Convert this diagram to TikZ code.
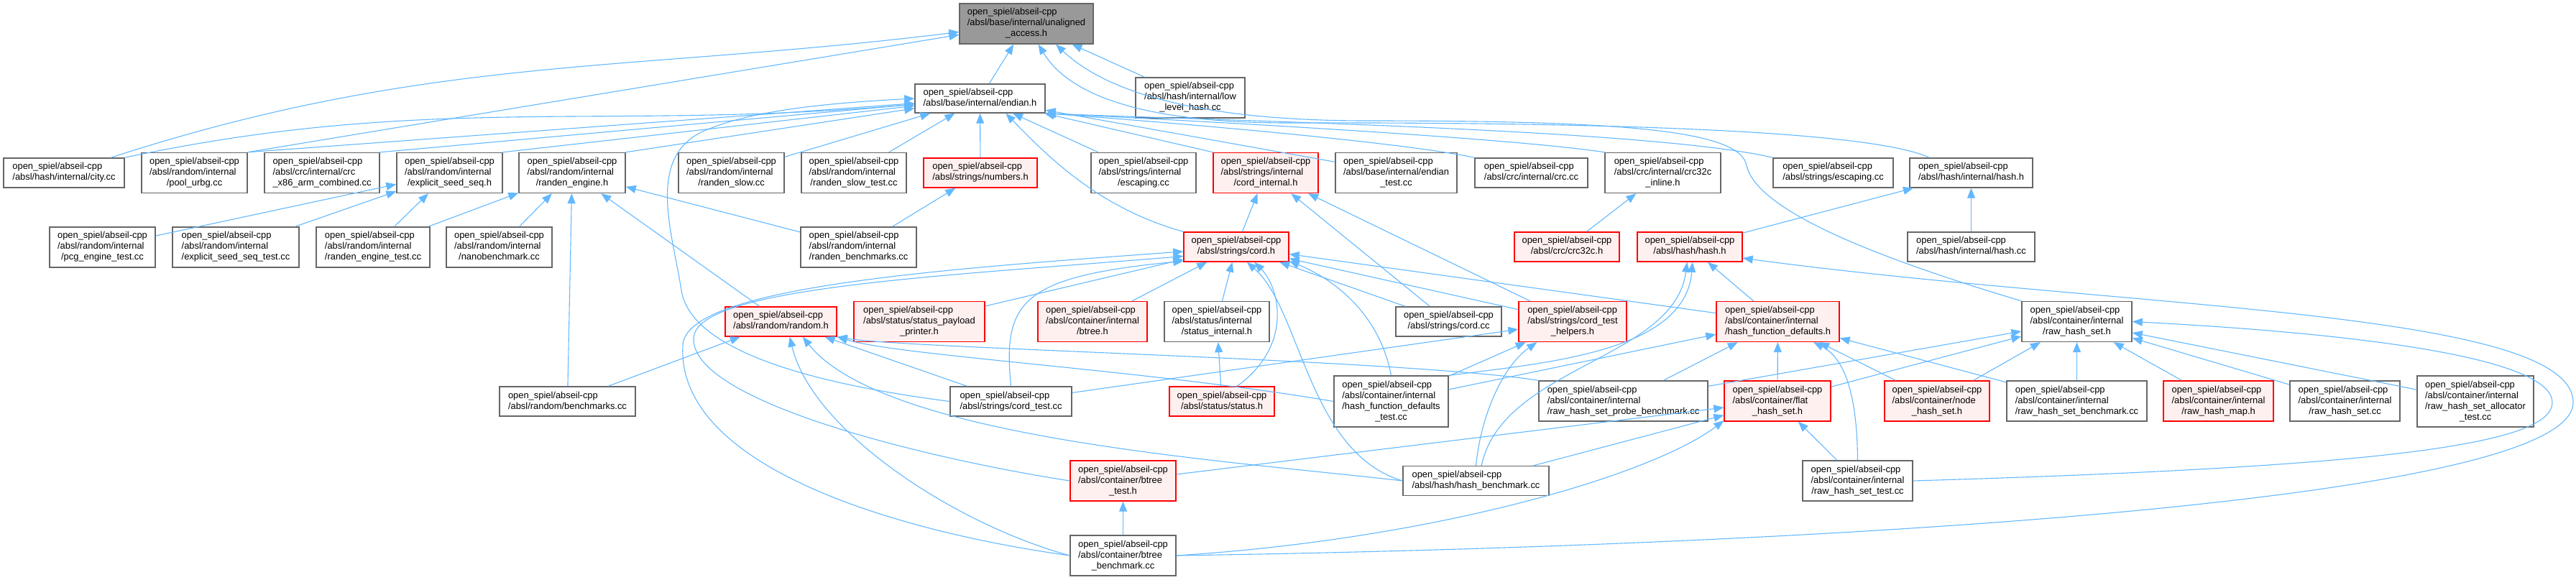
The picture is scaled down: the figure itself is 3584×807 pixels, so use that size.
\documentclass[tikz,border=0pt]{standalone}
\usepackage{fontspec}
\setmainfont{Liberation Sans}
\usetikzlibrary{arrows.meta,positioning,calc}
\definecolor{DepBlue}{HTML}{63B8FF}
\definecolor{BoxGrey}{HTML}{666666}
\definecolor{RootGrey}{HTML}{999999}
\definecolor{TruncPink}{HTML}{FFF0F0}
\newcommand{\FileFont}{\fontsize{6.45}{7.5}\selectfont}
\newcommand{\LastLine}[1]{\multicolumn{1}{@{}c@{}}{#1}}
\newcommand{\PathTwo}[1]{\begin{tabular}{@{}l@{}}open\_spiel/abseil-cpp\\\LastLine{#1}\end{tabular}}
\newcommand{\PathThree}[2]{\begin{tabular}{@{}l@{}}open\_spiel/abseil-cpp\\#1\\\LastLine{#2}\end{tabular}}
\newcommand{\PathFour}[3]{\begin{tabular}{@{}l@{}}open\_spiel/abseil-cpp\\#1\\#2\\\LastLine{#3}\end{tabular}}
\newcommand{\FileNode}[6]{%
  \node[#1,minimum width=#4*0.5pt,minimum height=#5*0.5pt] (#2) at (#3) {#6};%
}
\tikzset{
  file/.style={draw=BoxGrey,fill=white,line width=0.7pt,inner sep=0pt,font=\FileFont},
  trunc/.style={file,draw=red,fill=TruncPink},
  root/.style={file,fill=RootGrey},
  dep/.style={DepBlue,line width=0.55pt,-{Triangle[length=7pt,width=5.5pt]}},
}

\begin{document}
\begin{tikzpicture}[x=0.5pt,y=-0.5pt]
\useasboundingbox (0,0) rectangle (3584,807);
% top
\FileNode{root}{unaligned}{1428,33}{186}{56}{\PathThree{/absl/base/internal/unaligned}{\_access.h}}
\FileNode{file}{endian}{1363.5,137}{181}{40}{\PathTwo{/absl/base/internal/endian.h}}
\FileNode{file}{lowlevel}{1656,136}{152}{56}{\PathThree{/absl/hash/internal/low}{\_level\_hash.cc}}
% row 2
\FileNode{file}{city}{89,240.5}{168}{41}{\PathTwo{/absl/hash/internal/city.cc}}
\FileNode{file}{poolurbg}{270.5,240.5}{147}{56}{\PathThree{/absl/random/internal}{/pool\_urbg.cc}}
\FileNode{file}{crcx}{448,240.5}{160}{56}{\PathThree{/absl/crc/internal/crc}{\_x86\_arm\_combined.cc}}
\FileNode{file}{seedseq}{625.5,240.5}{147}{56}{\PathThree{/absl/random/internal}{/explicit\_seed\_seq.h}}
\FileNode{file}{randeng}{796,240.5}{148}{56}{\PathThree{/absl/random/internal}{/randen\_engine.h}}
\FileNode{file}{randslow}{1017.5,240.5}{147}{56}{\PathThree{/absl/random/internal}{/randen\_slow.cc}}
\FileNode{file}{randslowtest}{1188,240.5}{146}{56}{\PathThree{/absl/random/internal}{/randen\_slow\_test.cc}}
\FileNode{trunc}{numbers}{1364,240.5}{158}{41}{\PathTwo{/absl/strings/numbers.h}}
\FileNode{file}{intescaping}{1591,240.5}{146}{56}{\PathThree{/absl/strings/internal}{/escaping.cc}}
\FileNode{trunc}{cordint}{1761,240.5}{146}{56}{\PathThree{/absl/strings/internal}{/cord\_internal.h}}
\FileNode{file}{endiantest}{1942.5,240.5}{169}{56}{\PathThree{/absl/base/internal/endian}{\_test.cc}}
\FileNode{file}{crccc}{2130.5,240.5}{157}{41}{\PathTwo{/absl/crc/internal/crc.cc}}
\FileNode{file}{crcinline}{2313.5,240.5}{161}{56}{\PathThree{/absl/crc/internal/crc32c}{\_inline.h}}
\FileNode{file}{escaping}{2550.5,240.5}{167}{41}{\PathTwo{/absl/strings/escaping.cc}}
\FileNode{file}{inthash}{2742.5,240.5}{171}{41}{\PathTwo{/absl/hash/internal/hash.h}}
% row 3
\FileNode{file}{pcgtest}{142.5,344}{147}{56}{\PathThree{/absl/random/internal}{/pcg\_engine\_test.cc}}
\FileNode{file}{seedseqtest}{328,344}{176}{56}{\PathThree{/absl/random/internal}{/explicit\_seed\_seq\_test.cc}}
\FileNode{file}{randengtest}{519,344}{158}{56}{\PathThree{/absl/random/internal}{/randen\_engine\_test.cc}}
\FileNode{file}{nanobench}{694.5,344}{147}{56}{\PathThree{/absl/random/internal}{/nanobenchmark.cc}}
\FileNode{file}{randbench}{1194.5,344}{161}{56}{\PathThree{/absl/random/internal}{/randen\_benchmarks.cc}}
\FileNode{trunc}{cord}{1720,343.5}{146}{41}{\PathTwo{/absl/strings/cord.h}}
\FileNode{trunc}{crc32c}{2180,343.5}{146}{41}{\PathTwo{/absl/crc/crc32c.h}}
\FileNode{trunc}{hash}{2351,343.5}{146}{41}{\PathTwo{/absl/hash/hash.h}}
\FileNode{file}{inthashcc}{2742.5,343.5}{177}{41}{\PathTwo{/absl/hash/internal/hash.cc}}
% row 4
\FileNode{trunc}{random}{1086.5,447.5}{155}{41}{\PathTwo{/absl/random/random.h}}
\FileNode{trunc}{payload}{1279,447.5}{182}{56}{\PathThree{/absl/status/status\_payload}{\_printer.h}}
\FileNode{trunc}{btree}{1520,447.5}{152}{56}{\PathThree{/absl/container/internal}{/btree.h}}
\FileNode{file}{statusint}{1693,447.5}{146}{56}{\PathThree{/absl/status/internal}{/status\_internal.h}}
\FileNode{file}{cordcc}{2015.5,447.5}{147}{41}{\PathTwo{/absl/strings/cord.cc}}
\FileNode{trunc}{cordhelpers}{2188,447.5}{150}{56}{\PathThree{/absl/strings/cord\_test}{\_helpers.h}}
\FileNode{trunc}{hashdefaults}{2473.5,447.5}{171}{56}{\PathThree{/absl/container/internal}{/hash\_function\_defaults.h}}
\FileNode{file}{rawset}{2889.5,447.5}{153}{56}{\PathThree{/absl/container/internal}{/raw\_hash\_set.h}}
% row 5
\FileNode{file}{randombench}{789.5,558.5}{189}{41}{\PathTwo{/absl/random/benchmarks.cc}}
\FileNode{file}{cordtest}{1406.5,558.5}{169}{41}{\PathTwo{/absl/strings/cord\_test.cc}}
\FileNode{trunc}{status}{1700,558.5}{146}{41}{\PathTwo{/absl/status/status.h}}
\FileNode{file}{defaultstest}{1935.5,558.5}{159}{71}{\PathFour{/absl/container/internal}{/hash\_function\_defaults}{\_test.cc}}
\FileNode{file}{probebench}{2258.5,558}{235}{56}{\PathThree{/absl/container/internal}{/raw\_hash\_set\_probe\_benchmark.cc}}
\FileNode{trunc}{flatset}{2473,558}{148}{56}{\PathThree{/absl/container/flat}{\_hash\_set.h}}
\FileNode{trunc}{nodeset}{2695,558}{146}{56}{\PathThree{/absl/container/node}{\_hash\_set.h}}
\FileNode{file}{rawsetbench}{2889.5,558}{195}{56}{\PathThree{/absl/container/internal}{/raw\_hash\_set\_benchmark.cc}}
\FileNode{trunc}{rawmap}{3086.5,558}{153}{56}{\PathThree{/absl/container/internal}{/raw\_hash\_map.h}}
\FileNode{file}{rawsetcc}{3262.5,558}{153}{56}{\PathThree{/absl/container/internal}{/raw\_hash\_set.cc}}
\FileNode{file}{alloctest}{3444,558.5}{162}{71}{\PathFour{/absl/container/internal}{/raw\_hash\_set\_allocator}{\_test.cc}}
% rows 6 and 7
\FileNode{trunc}{btreetest}{1562.5,669}{147}{56}{\PathThree{/absl/container/btree}{\_test.h}}
\FileNode{file}{hashbench}{2053.5,669}{203}{41}{\PathTwo{/absl/hash/hash\_benchmark.cc}}
\FileNode{file}{rawsettest}{2584.5,669}{153}{56}{\PathThree{/absl/container/internal}{/raw\_hash\_set\_test.cc}}
\FileNode{file}{btreebench}{1562.5,773}{147}{56}{\PathThree{/absl/container/btree}{\_benchmark.cc}}

% unaligned_access.h
\draw[dep] (endian) -- (unaligned);
\draw[dep] (lowlevel) -- (unaligned);
\draw[dep] (city) to[out=18,in=187] (unaligned);
\draw[dep] (poolurbg.north east) -- (unaligned);
\draw[dep] (inthash.160) .. controls (2600,180) and (2200,170) .. (1800,171) .. controls (1560,172) and (1480,120) .. (unaligned.-60);
\draw[dep] (rawset.north west) .. controls (2650,370) and (2445,300) .. (2430,230) .. controls (2420,180) and (2250,168) .. (1900,168) .. controls (1620,168) and (1520,110) .. (unaligned.-35);
% endian.h
\draw[dep] (city.north east) to[out=12,in=185] (endian);
\draw[dep] (poolurbg.north east) -- (endian);
\draw[dep] (crcx.north east) -- (endian);
\draw[dep] (seedseq.north east) -- (endian);
\draw[dep] (randeng.north east) -- (endian);
\draw[dep] (randslow) -- (endian);
\draw[dep] (randslowtest) -- (endian);
\draw[dep] (numbers) -- (endian);
\draw[dep] (intescaping) -- (endian);
\draw[dep] (cordint.north west) -- (endian);
\draw[dep] (cord.north west) .. controls (1530,290) and (1460,220) .. (endian.-30);
\draw[dep] (endiantest) -- (endian);
\draw[dep] (crccc.north west) .. controls (1950,198) and (1650,172) .. (endian.south east);
\draw[dep] (crcinline.north west) .. controls (2100,192) and (1700,170) .. (endian.south east);
\draw[dep] (escaping.north west) .. controls (2300,180) and (1700,168) .. (endian.south east);
\draw[dep] (cordtest.west) .. controls (1100,530) and (960,480) .. (948,404) .. controls (935,320) and (895,210) .. (990,178) .. controls (1060,150) and (1180,142) .. (endian.west);
% random internals
\draw[dep] (crc32c) -- (crcinline);
\draw[dep] (hash) -- (inthash);
\draw[dep] (inthashcc) -- (inthash);
\draw[dep] (cord) -- (cordint);
\draw[dep] (cordcc) -- (cordint);
\draw[dep] (cordhelpers) -- (cordint);
\draw[dep] (randbench) -- (numbers);
\draw[dep] (randbench) -- (randeng);
\draw[dep] (pcgtest) -- (seedseq);
\draw[dep] (seedseqtest) -- (seedseq);
\draw[dep] (randengtest) -- (seedseq);
\draw[dep] (randengtest) -- (randeng);
\draw[dep] (nanobench) -- (randeng);
\draw[dep] (randombench) -- (randeng);
\draw[dep] (random) -- (randeng);
% random.h
\draw[dep] (randombench) -- (random);
\draw[dep] (cordtest) -- (random);
\draw[dep] (defaultstest.west) .. controls (1600,515) and (1250,495) .. (random.south east);
\draw[dep] (probebench.north west) .. controls (1950,500) and (1260,485) .. (random.south east);
\draw[dep] (hashbench.west) .. controls (1700,640) and (1230,610) .. (random.-35);
\draw[dep] (btreebench.west) .. controls (1330,730) and (1130,600) .. (random.-60);
% cord.h
\draw[dep] (cordtest.north) .. controls (1395,420) and (1420,385) .. (cord.195);
\draw[dep] (payload) -- (cord);
\draw[dep] (btree) -- (cord);
\draw[dep] (statusint) -- (cord);
\draw[dep] (status.45) .. controls (1800,480) and (1780,400) .. (cord.-40);
\draw[dep] (cordcc) -- (cord);
\draw[dep] (cordhelpers) -- (cord);
\draw[dep] (hashdefaults) -- (cord);
\draw[dep] (defaultstest.north) .. controls (1920,440) and (1860,390) .. (cord.-15);
\draw[dep] (hashbench.west) .. controls (1820,630) and (1810,430) .. (cord.-55);
\draw[dep] (btreetest.west) .. controls (1300,640) and (960,560) .. (965,470) .. controls (970,400) and (1300,385) .. (cord.190);
\draw[dep] (btreebench.west) .. controls (1250,740) and (940,650) .. (950,480) .. controls (955,400) and (1300,375) .. (cord.185);
% hash.h
\draw[dep] (hashbench.70) .. controls (2090,510) and (2330,500) .. (hash.-100);
\draw[dep] (defaultstest.north east) .. controls (2150,505) and (2345,490) .. (hash.-80);
\draw[dep] (hashdefaults) -- (hash);
\draw[dep] (btreebench.east) .. controls (2500,760) and (3580,700) .. (3580,560) .. controls (3580,430) and (2950,430) .. (hash.-12);
% cord_test_helpers.h
\draw[dep] (cordtest) -- (cordhelpers);
\draw[dep] (defaultstest) -- (cordhelpers);
\draw[dep] (hashbench.north) .. controls (2060,580) and (2090,510) .. (cordhelpers.-150);
% hash_function_defaults.h
\draw[dep] (defaultstest) -- (hashdefaults);
\draw[dep] (probebench) -- (hashdefaults);
\draw[dep] (flatset) -- (hashdefaults);
\draw[dep] (nodeset) -- (hashdefaults);
\draw[dep] (rawsetbench) -- (hashdefaults);
\draw[dep] (rawsettest.north) .. controls (2584,560) and (2570,500) .. (hashdefaults.-30);
% raw_hash_set.h
\draw[dep] (probebench) -- (rawset);
\draw[dep] (flatset) -- (rawset);
\draw[dep] (nodeset) -- (rawset);
\draw[dep] (rawsetbench) -- (rawset);
\draw[dep] (rawmap) -- (rawset);
\draw[dep] (rawsetcc) -- (rawset);
\draw[dep] (alloctest) -- (rawset);
\draw[dep] (rawsettest.east) .. controls (3300,650) and (3551,620) .. (3551,560) .. controls (3551,500) and (3300,465) .. (rawset.east);
% flat_hash_set.h
\draw[dep] (rawsettest) -- (flatset);
\draw[dep] (btreetest) -- (flatset);
\draw[dep] (hashbench) -- (flatset);
\draw[dep] (btreebench.east) .. controls (2000,750) and (2300,660) .. (flatset.-160);
% status and btree
\draw[dep] (status) -- (statusint);
\draw[dep] (btreebench) -- (btreetest);
\end{tikzpicture}
\end{document}
